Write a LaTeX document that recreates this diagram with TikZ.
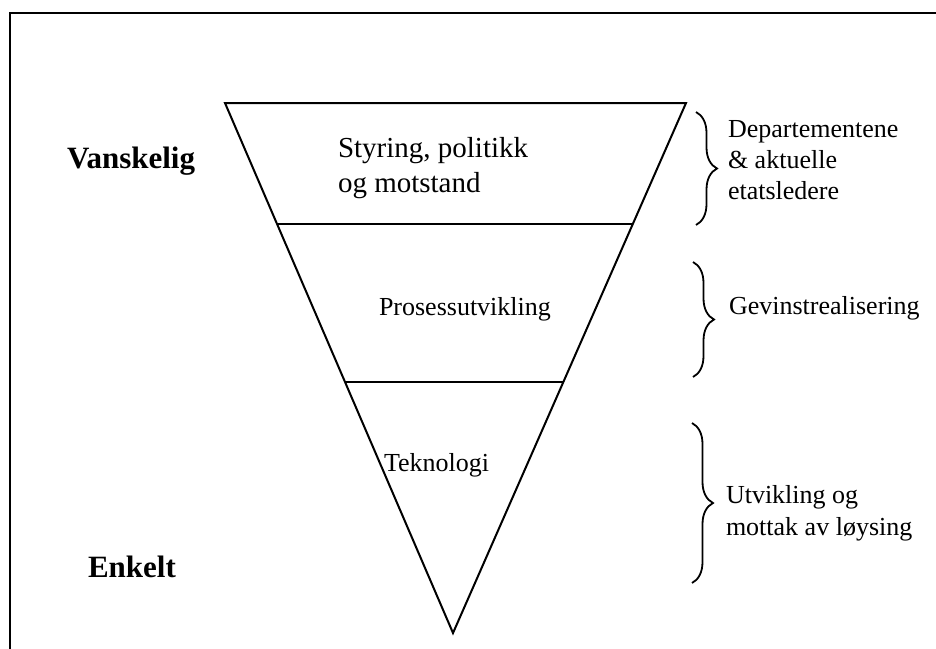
\documentclass[tikz,border=0pt]{standalone}
\usepackage{fontspec}
\setmainfont{Liberation Serif}
\usepackage{tikz}
\usetikzlibrary{calc}
\usetikzlibrary{decorations.pathreplacing}

\begin{document}
\begin{tikzpicture}[x=1pt,y=-1pt,
	line width=2pt,
	level/.style={font=\fontsize{26}{35}\selectfont, inner sep=0pt, align=left},
	side/.style={font=\fontsize{26}{31}\selectfont, inner sep=0pt, align=left},
	grade/.style={font=\fontsize{31}{36}\selectfont\bfseries, inner sep=0pt},
	bracket/.style={decorate, line width=1.8pt, decoration={brace, amplitude=21pt}}]
  \useasboundingbox (0,0) rectangle (936,648);
  % frame
  \draw[line width=2.6pt] (10,660) -- (10,13) -- (950,13);
  % funnel
  \coordinate (tl) at (225,103);
  \coordinate (tr) at (686,103);
  \coordinate (apex) at (453,633);
  \draw (tl) -- (tr) -- (apex) -- cycle;
  \draw ($(tl)!0.2283!(apex)$) -- ($(tr)!0.2283!(apex)$);
  \draw ($(tl)!0.5264!(apex)$) -- ($(tr)!0.5264!(apex)$);
  \node[level, font=\fontsize{29}{35}\selectfont, anchor=west] (styring) at (337,168) {Styring, politikk\\og motstand};
  \node[level, anchor=base west] (prosess) at (378,315) {Prosessutvikling};
  \node[level, anchor=base west] (tek) at (383,471) {Teknologi};
  \node[grade, anchor=base west] (vansk) at (66,168) {Vanskelig};
  \node[grade, anchor=base west] (enkelt) at (87,577) {Enkelt};
  % braces
  \coordinate (b1a) at (696,112);
  \coordinate (b1b) at (696,225);
  \coordinate (b2a) at (693,262);
  \coordinate (b2b) at (693,377);
  \coordinate (b3a) at (692,423);
  \coordinate (b3b) at (692,583);
  \draw[bracket] (b1a) -- (b1b);
  \draw[bracket] (b2a) -- (b2b);
  \draw[bracket] (b3a) -- (b3b);
  \node[side, anchor=west] (dep) at (727,160) {Departementene\\\& aktuelle\\etatsledere};
  \node[side, anchor=base west] (gevinst) at (728,314) {Gevinstrealisering};
  \node[side, font=\fontsize{26}{32}\selectfont, anchor=west] (utv) at (725,513) {Utvikling og\\mottak av løysing};

\end{tikzpicture}
\end{document}
